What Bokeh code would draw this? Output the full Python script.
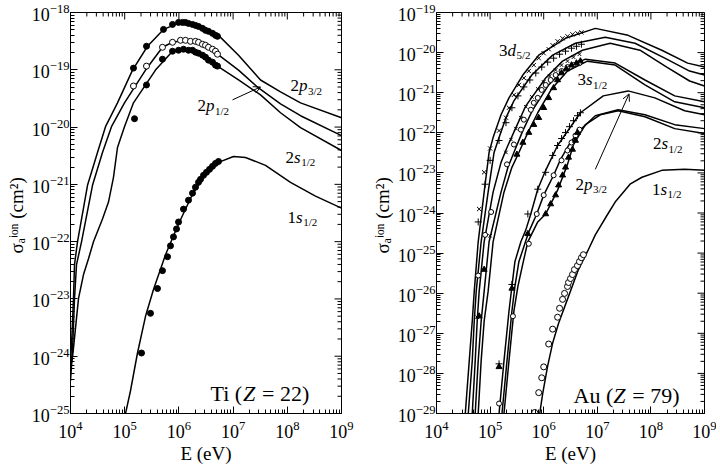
import numpy as np
from bokeh.plotting import figure
from bokeh.models import FixedTicker, Label, Arrow, OpenHead
from bokeh.layouts import row
from bokeh.embed import file_html
from bokeh.resources import INLINE

FONT = "Liberation Serif"

# ---------------- data (log10 values) ----------------
x_ticks = [1e4, 1e5, 1e6, 1e7, 1e8, 1e9]
ti_y_ticks = [1e-25, 1e-24, 1e-23, 1e-22, 1e-21, 1e-20, 1e-19, 1e-18]
au_y_ticks = [1e-29, 1e-28, 1e-27, 1e-26, 1e-25, 1e-24, 1e-23, 1e-22, 1e-21, 1e-20, 1e-19]

# Ti (Z = 22) theory curves
ti_2p32_lE = [4.000, 4.018, 4.055, 4.074, 4.129, 4.314, 4.498, 4.646, 4.867, 5.144, 5.421, 5.716, 6.030, 6.399, 6.731, 7.100, 7.506, 7.875, 8.244, 9.000]
ti_2p32_lS = [-24.083, -23.823, -22.991, -22.402, -22.003, -21.016, -20.444, -19.993, -19.577, -19.005, -18.589, -18.295, -18.173, -18.225, -18.399, -18.745, -19.178, -19.386, -19.577, -19.837]
ti_2p12_lE = [4.000, 4.037, 4.074, 4.111, 4.203, 4.406, 4.590, 4.756, 4.996, 5.384, 5.697, 5.882, 6.122, 6.399, 6.712, 7.100, 7.469, 7.875, 8.244, 9.000]
ti_2p12_lS = [-24.256, -23.910, -22.991, -22.402, -22.003, -21.016, -20.444, -19.993, -19.577, -19.005, -18.607, -18.520, -18.485, -18.537, -18.728, -19.005, -19.317, -19.594, -19.802, -20.149]
ti_2s12_lE = [4.000, 4.018, 4.055, 4.148, 4.240, 4.332, 4.424, 4.590, 4.701, 4.793, 4.867, 4.996, 5.162, 5.568, 5.882, 6.122, 6.399, 6.712, 7.100, 7.506, 7.875, 8.244, 9.000]
ti_2s12_lS = [-24.430, -24.170, -23.858, -22.991, -22.575, -22.298, -22.003, -21.605, -21.310, -20.877, -20.357, -19.993, -19.577, -19.005, -18.676, -18.641, -18.711, -18.936, -19.178, -19.438, -19.750, -20.010, -20.409]
ti_1s12_lE = [5.015, 5.107, 5.236, 5.384, 5.531, 5.753, 5.993, 6.251, 6.491, 6.731, 7.007, 7.229, 7.598, 8.059, 8.520, 9.000]
ti_1s12_lS = [-25.002, -24.603, -23.944, -23.303, -22.835, -22.229, -21.692, -21.172, -20.825, -20.617, -20.513, -20.530, -20.669, -20.964, -21.206, -21.414]

# Ti experimental points
ti_d2p32_lE = [5.162, 5.402, 5.716, 5.882, 5.993, 6.066, 6.122, 6.177, 6.251, 6.306, 6.362, 6.435, 6.491, 6.546, 6.620, 6.675, 6.712]
ti_d2p32_lS = [-18.971, -18.589, -18.295, -18.208, -18.173, -18.173, -18.173, -18.191, -18.208, -18.225, -18.243, -18.277, -18.312, -18.329, -18.364, -18.399, -18.416]
ti_d2p12_lE = [5.162, 5.402, 5.697, 5.882, 6.030, 6.122, 6.214, 6.306, 6.362, 6.435, 6.491, 6.546, 6.620, 6.675, 6.712]
ti_d2p12_lS = [-19.283, -18.936, -18.607, -18.520, -18.485, -18.485, -18.503, -18.503, -18.520, -18.555, -18.572, -18.607, -18.641, -18.676, -18.728]
ti_d2s12_lE = [5.181, 5.402, 5.697, 5.882, 5.993, 6.085, 6.177, 6.251, 6.306, 6.362, 6.435, 6.491, 6.546, 6.620, 6.675, 6.712]
ti_d2s12_lS = [-19.854, -19.265, -18.815, -18.676, -18.659, -18.641, -18.659, -18.659, -18.693, -18.711, -18.745, -18.780, -18.832, -18.867, -18.919, -18.936]
ti_d1s12_lE = [5.310, 5.476, 5.605, 5.697, 5.790, 5.845, 5.900, 5.956, 5.993, 6.085, 6.177, 6.251, 6.306, 6.362, 6.399, 6.454, 6.509, 6.565, 6.620, 6.675, 6.731]
ti_d1s12_lS = [-23.944, -23.251, -22.818, -22.506, -22.263, -22.073, -21.917, -21.778, -21.657, -21.432, -21.276, -21.154, -21.050, -20.964, -20.912, -20.842, -20.790, -20.738, -20.686, -20.634, -20.600]

# Au (Z = 79) theory curves: M shell (five), L shell (three), K shell
au_m1_lE = [4.537, 4.611, 4.667, 4.704, 4.778, 4.889, 4.981, 5.056, 5.204, 5.352, 5.611, 5.907, 6.407, 6.963, 7.574, 8.204, 8.685, 9.000]
au_m1_lS = [-29.000, -27.688, -26.698, -25.955, -24.718, -23.480, -22.490, -22.119, -21.550, -21.129, -20.559, -20.064, -19.644, -19.396, -19.569, -19.941, -20.262, -20.361]
au_m2_lE = [4.593, 4.667, 4.704, 4.741, 4.833, 4.963, 5.074, 5.167, 5.296, 5.444, 5.778, 6.167, 6.593, 7.148, 7.704, 8.259, 8.722, 9.000]
au_m2_lS = [-29.000, -27.688, -26.698, -25.955, -24.718, -23.480, -22.490, -22.119, -21.624, -21.203, -20.559, -20.064, -19.767, -19.619, -19.767, -20.139, -20.460, -20.559]
au_m3_lE = [4.667, 4.722, 4.759, 4.796, 4.889, 5.056, 5.204, 5.315, 5.481, 5.667, 6.037, 6.352, 6.722, 7.241, 7.796, 8.296, 8.722, 9.000]
au_m3_lS = [-29.000, -27.688, -26.698, -25.955, -24.718, -23.480, -22.738, -22.366, -21.871, -21.327, -20.634, -20.213, -19.941, -19.767, -19.941, -20.361, -20.708, -20.832]
au_m4_lE = [4.722, 4.778, 4.833, 4.889, 4.981, 5.204, 5.333, 5.444, 5.611, 5.796, 6.093, 6.407, 6.778, 7.333, 7.889, 8.444, 9.000]
au_m4_lS = [-29.000, -27.688, -26.698, -25.955, -24.718, -23.480, -22.861, -22.490, -21.946, -21.426, -20.807, -20.386, -20.163, -20.262, -20.683, -21.079, -21.228]
au_m5_lE = [4.778, 4.833, 4.889, 4.963, 5.056, 5.259, 5.407, 5.537, 5.704, 5.889, 6.148, 6.444, 6.815, 7.333, 7.889, 8.444, 9.000]
au_m5_lS = [-29.000, -27.688, -26.698, -25.955, -24.718, -23.480, -22.861, -22.490, -21.995, -21.500, -20.906, -20.460, -20.213, -20.312, -20.807, -21.228, -21.376]
au_l1_lE = [5.167, 5.259, 5.352, 5.407, 5.463, 5.574, 5.667, 5.759, 5.889, 6.037, 6.259, 6.685, 7.111, 7.574, 8.074, 8.630, 9.000]
au_l1_lS = [-29.000, -27.688, -26.450, -25.832, -25.213, -24.718, -24.421, -24.025, -23.406, -22.936, -22.317, -21.500, -21.079, -20.955, -21.129, -21.450, -21.550]
au_l2_lE = [5.222, 5.315, 5.407, 5.463, 5.537, 5.722, 5.870, 6.000, 6.185, 6.315, 6.463, 6.630, 6.963, 7.389, 7.889, 8.444, 9.000]
au_l2_lS = [-29.000, -27.688, -26.450, -25.832, -25.213, -24.470, -24.025, -23.554, -23.059, -22.663, -22.317, -21.995, -21.574, -21.426, -21.550, -21.797, -21.896]
au_l3_lE = [5.259, 5.352, 5.444, 5.519, 5.611, 5.704, 5.889, 6.037, 6.148, 6.259, 6.444, 6.556, 6.778, 7.056, 7.389, 7.889, 8.444, 9.000]
au_l3_lS = [-29.000, -27.688, -26.450, -25.832, -25.262, -24.718, -24.223, -24.025, -23.728, -23.431, -22.787, -22.292, -21.797, -21.550, -21.450, -21.599, -21.896, -22.020]
au_k_lE = [5.926, 5.981, 6.074, 6.167, 6.278, 6.463, 6.648, 6.815, 6.963, 7.185, 7.333, 7.611, 7.833, 8.204, 8.630, 9.000]
au_k_lS = [-29.000, -28.505, -27.812, -27.243, -26.748, -26.079, -25.411, -24.965, -24.545, -24.050, -23.728, -23.282, -23.109, -22.936, -22.911, -22.936]

# Au experimental points
au_dm1_lE = [4.796, 4.889, 5.000, 5.167, 5.296, 5.352, 5.444, 5.537, 5.630, 5.722, 5.815, 5.907, 6.000, 6.093, 6.167, 6.259, 6.352, 6.444, 6.537, 6.630, 6.704]
au_dm1_lS = [-23.901, -22.985, -22.391, -21.946, -21.624, -21.376, -21.054, -20.807, -20.634, -20.460, -20.312, -20.139, -20.015, -19.916, -19.817, -19.718, -19.644, -19.594, -19.545, -19.520, -19.495]
au_dm2_lE = [4.778, 4.907, 5.000, 5.167, 5.296, 5.407, 5.519, 5.630, 5.741, 5.852, 5.963, 6.074, 6.185, 6.296, 6.407, 6.519, 6.611, 6.704]
au_dm2_lS = [-24.223, -23.282, -22.688, -22.193, -21.748, -21.376, -21.079, -20.856, -20.683, -20.510, -20.361, -20.238, -20.139, -20.040, -19.965, -19.891, -19.842, -19.792]
au_dm3_lE = [4.759, 5.000, 5.296, 5.389, 5.481, 5.574, 5.667, 5.778, 5.889, 6.000, 6.111, 6.222, 6.333, 6.444, 6.556, 6.667]
au_dm3_lS = [-26.599, -24.569, -22.490, -22.168, -21.896, -21.624, -21.351, -21.104, -20.906, -20.733, -20.584, -20.436, -20.312, -20.213, -20.114, -20.040]
au_dm4_lE = [4.778, 4.907, 5.019, 5.315, 5.444, 5.574, 5.630, 5.759, 5.815, 5.889, 5.963, 6.037, 6.130, 6.222, 6.333, 6.444, 6.556, 6.667]
au_dm4_lS = [-25.559, -24.545, -23.975, -22.787, -22.292, -21.921, -21.673, -21.426, -21.252, -21.129, -20.931, -20.807, -20.683, -20.559, -20.460, -20.361, -20.312, -20.262]
au_dm5_lE = [4.796, 4.889, 5.500, 5.611, 5.722, 5.815, 5.907, 6.000, 6.093, 6.185, 6.259, 6.333, 6.426, 6.519, 6.611, 6.685]
au_dm5_lS = [-26.574, -25.411, -22.540, -22.243, -21.995, -21.797, -21.624, -21.376, -21.129, -20.881, -20.683, -20.510, -20.411, -20.312, -20.262, -20.213]
au_dl1_lE = [5.167, 5.407, 5.704, 5.889, 6.037, 6.167, 6.259, 6.333, 6.407, 6.481, 6.556, 6.630, 6.685]
au_dl1_lS = [-27.762, -25.782, -24.025, -23.406, -22.985, -22.564, -22.317, -22.144, -21.995, -21.847, -21.698, -21.574, -21.500]
au_dl2_lE = [5.167, 5.426, 5.722, 5.870, 6.000, 6.185, 6.333, 6.444, 6.519, 6.593, 6.667]
au_dl2_lS = [-28.752, -26.574, -24.767, -24.025, -23.554, -23.059, -22.688, -22.441, -22.243, -22.069, -21.921]
au_dl3_lE = [5.167, 5.407, 5.704, 6.037, 6.130, 6.222, 6.278, 6.352, 6.407, 6.463, 6.537, 6.593, 6.630]
au_dl3_lS = [-27.837, -25.881, -24.520, -24.025, -23.777, -23.554, -23.307, -23.059, -22.861, -22.614, -22.416, -22.193, -21.995]
au_dk_lE = [5.833, 5.907, 5.963, 6.000, 6.093, 6.167, 6.259, 6.296, 6.352, 6.389, 6.444, 6.463, 6.500, 6.537, 6.574, 6.630, 6.667, 6.704, 6.741]
au_dk_lS = [-28.975, -28.480, -28.109, -27.837, -27.267, -26.896, -26.599, -26.376, -26.153, -26.005, -25.832, -25.733, -25.634, -25.535, -25.411, -25.312, -25.213, -25.114, -25.040]


def v(a):
    return 10.0 ** np.asarray(a)


def minor_of(ticks):
    return [m * t for t in ticks[:-1] for m in range(2, 10)]


FRAME_H = 401
MAJ, MIN = 7, 4


def make_fig(frame_w, yr, yticks, bl, br):
    p = figure(frame_width=frame_w, frame_height=FRAME_H,
               x_axis_type="log", y_axis_type="log",
               x_range=(1e4, 1e9), y_range=yr, output_backend="svg",
               toolbar_location=None, min_border_left=bl, min_border_right=br,
               min_border_top=12, min_border_bottom=58,
               background_fill_color="white", border_fill_color="white")
    p.grid.visible = False
    p.outline_line_color = "black"
    p.outline_line_width = 1
    xminor = minor_of(x_ticks)
    yminor = minor_of(yticks)
    p.xaxis.ticker = FixedTicker(ticks=x_ticks, minor_ticks=xminor)
    p.yaxis.ticker = FixedTicker(ticks=yticks, minor_ticks=yminor)
    for ax in p.xaxis + p.yaxis:
        ax.axis_line_color = "black"
        ax.major_tick_in = MAJ
        ax.major_tick_out = 0
        ax.minor_tick_in = MIN
        ax.minor_tick_out = 0
        ax.major_tick_line_color = "black"
        ax.minor_tick_line_color = "black"
        ax.major_label_text_font = FONT
        ax.major_label_text_font_size = "18px"
        ax.major_label_text_color = "black"
        ax.axis_label_text_font = FONT
        ax.axis_label_text_font_style = "normal"
        ax.axis_label_text_font_size = "19px"
        ax.axis_label_text_color = "black"
    p.xaxis.major_label_standoff = 7
    p.yaxis.major_label_standoff = 1
    p.xaxis.axis_label = "E (eV)"
    p.xaxis.axis_label_standoff = 2
    p.yaxis.axis_label = "σₐⁱᵒⁿ  (cm²)"
    p.yaxis.axis_label_standoff = 2

    # mirrored inward ticks on the top and right edges of the frame
    x0, x1 = 1e4, 1e9
    y0, y1 = yr
    px_dec_x = frame_w / np.log10(x1 / x0)
    px_dec_y = FRAME_H / np.log10(y1 / y0)
    for ticks, ln in ((x_ticks, MAJ), (xminor, MIN)):
        f = 10 ** (ln / px_dec_y)
        p.segment(x0=ticks, y0=[y1] * len(ticks), x1=ticks, y1=[y1 / f] * len(ticks),
                  line_color="black", line_width=1)
    for ticks, ln in ((yticks, MAJ), (yminor, MIN)):
        f = 10 ** (ln / px_dec_x)
        p.segment(x0=[x1] * len(ticks), y0=ticks, x1=[x1 / f] * len(ticks), y1=ticks,
                  line_color="black", line_width=1)
    return p


def curve(p, lE, lS):
    p.line(v(lE), v(lS), line_color="black", line_width=1.5)


def pts(p, lE, lS, marker, filled=True, size=6):
    p.scatter(v(lE), v(lS), marker=marker, size=size, line_color="black",
              fill_color="black" if filled else "white", line_width=1)


def txt(p, x, y, text, size=17, italic=False, dx=0, dy=0):
    p.add_layout(Label(x=x, y=y, x_offset=dx, y_offset=dy, text=text,
                       text_font=FONT, text_font_size=f"{size}px",
                       text_font_style="italic" if italic else "normal",
                       text_color="black", text_baseline="alphabetic"))


def orbital(p, x, y, n, letter, sub, size=17):
    w = size * 0.5
    txt(p, x, y, n, size)
    txt(p, x, y, letter, size, italic=True, dx=w)
    lw = size * (0.39 if letter == "s" else 0.5)
    txt(p, x, y, sub, int(size * 0.7), dx=w + lw + 0.5, dy=-5)


def element(p, x, y, head, znum, head_em, size=22):
    w_head = size * head_em
    txt(p, x, y, head + "\u00a0(", size)
    txt(p, x, y, "Z", size, italic=True, dx=w_head)
    txt(p, x, y, "\u00a0=\u00a0" + znum + ")", size, dx=w_head + size * 0.62)


# ---------------- left panel: Ti ----------------
p1 = make_fig(271, (1e-25, 1e-18), ti_y_ticks, 70, 25)
curve(p1, ti_2p32_lE, ti_2p32_lS)
curve(p1, ti_2p12_lE, ti_2p12_lS)
curve(p1, ti_2s12_lE, ti_2s12_lS)
curve(p1, ti_1s12_lE, ti_1s12_lS)
pts(p1, ti_d2p32_lE, ti_d2p32_lS, "circle")
pts(p1, ti_d2p12_lE, ti_d2p12_lS, "circle", filled=False)
pts(p1, ti_d2s12_lE, ti_d2s12_lS, "circle")
pts(p1, ti_d1s12_lE, ti_d1s12_lS, "circle")

orbital(p1, 10**8.059, 10**-19.283, "2", "p", "3/2")
orbital(p1, 10**6.343, 10**-19.629, "2", "p", "1/2")
orbital(p1, 10**7.967, 10**-20.530, "2", "s", "1/2")
orbital(p1, 10**8.004, 10**-21.570, "1", "s", "1/2")
element(p1, 10**6.583, 10**-24.655, "Ti", "22", 1.472)
p1.add_layout(Arrow(end=OpenHead(size=7, line_width=1), x_start=10**6.989, y_start=10**-19.525,
                    x_end=10**7.506, y_end=10**-19.300, line_width=1))

# ---------------- right panel: Au ----------------
p2 = make_fig(268, (1e-29, 1e-19), au_y_ticks, 70, 12)
for lE, lS in [(au_m1_lE, au_m1_lS), (au_m2_lE, au_m2_lS), (au_m3_lE, au_m3_lS),
               (au_m4_lE, au_m4_lS), (au_m5_lE, au_m5_lS), (au_l1_lE, au_l1_lS),
               (au_l2_lE, au_l2_lS), (au_l3_lE, au_l3_lS), (au_k_lE, au_k_lS)]:
    curve(p2, lE, lS)
pts(p2, au_dm1_lE, au_dm1_lS, "x", size=6)
pts(p2, au_dm2_lE, au_dm2_lS, "cross", size=7)
pts(p2, au_dm3_lE, au_dm3_lS, "x", size=5)
pts(p2, au_dm4_lE, au_dm4_lS, "circle", filled=False, size=5)
pts(p2, au_dm5_lE, au_dm5_lS, "triangle", size=6)
pts(p2, au_dl1_lE, au_dl1_lS, "cross", size=7)
pts(p2, au_dl2_lE, au_dl2_lS, "circle", filled=False, size=5)
pts(p2, au_dl3_lE, au_dl3_lS, "triangle", size=6)
pts(p2, au_dk_lE, au_dk_lS, "circle", filled=False, size=6)

orbital(p2, 10**5.167, 10**-19.941, "3", "d", "5/2")
orbital(p2, 10**6.630, 10**-20.683, "3", "s", "1/2")
orbital(p2, 10**8.037, 10**-22.267, "2", "s", "1/2")
orbital(p2, 10**6.593, 10**-23.282, "2", "p", "3/2")
orbital(p2, 10**8.019, 10**-23.406, "1", "s", "1/2")
element(p2, 10**6.556, 10**-28.554, "Au", "79", 1.805)
p2.add_layout(Arrow(end=OpenHead(size=7, line_width=1), x_start=10**6.963, y_start=10**-22.911,
                    x_end=10**7.593, y_end=10**-21.030, line_width=1))

layout = row(p1, p2)
open("out.html", "w").write(file_html(layout, INLINE))
